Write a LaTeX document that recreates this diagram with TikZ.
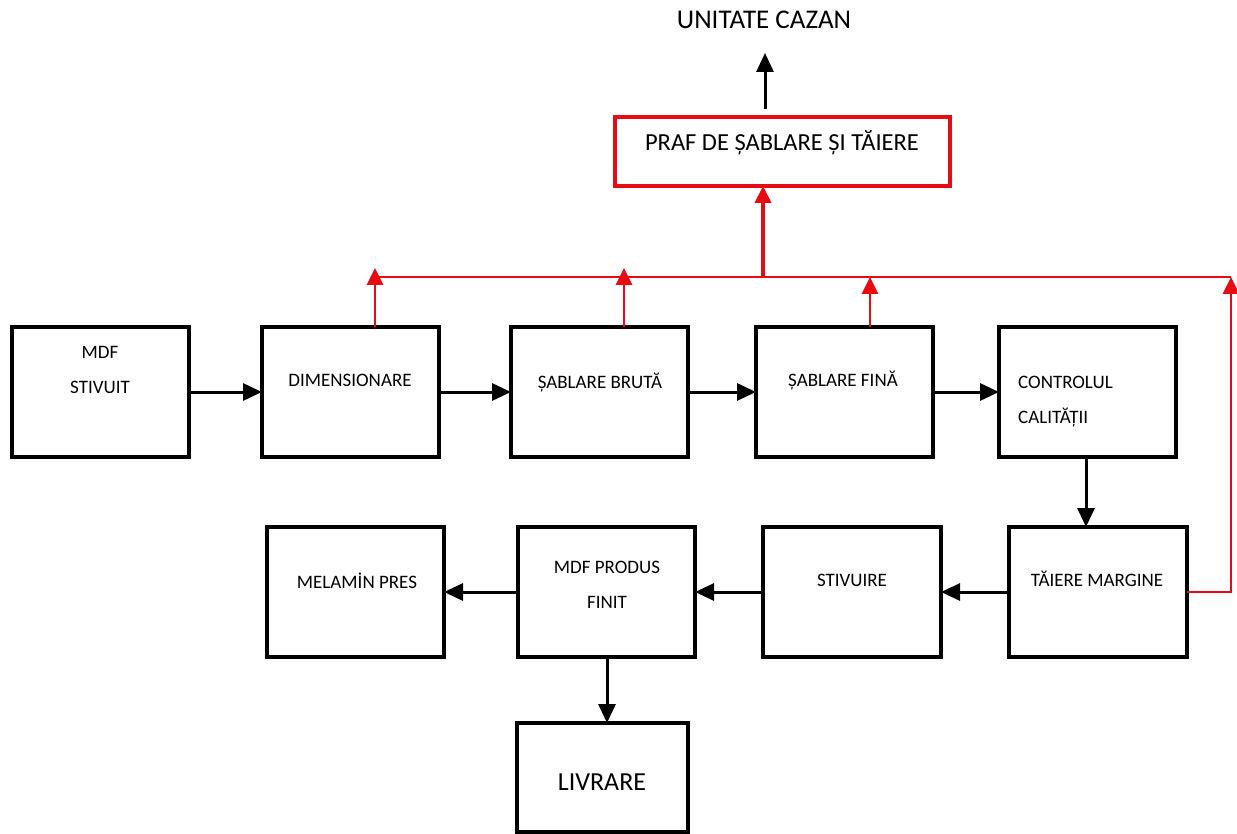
\documentclass[tikz,border=0pt]{standalone}
\usepackage{fontspec}
\setmainfont{Carlito}
\usetikzlibrary{arrows.meta,calc}
\definecolor{dustred}{RGB}{232,12,18}
\tikzset{
  box/.style={draw=black, line width=3.2pt, minimum width=177pt, minimum height=130pt,
              inner sep=0pt, outer sep=0pt},
  dustbox/.style={draw=dustred, line width=4.2pt, minimum width=335pt, minimum height=69pt,
              inner sep=0pt, outer sep=0pt},
  lbl/.style={inner sep=0pt, anchor=base, font=\fontsize{19}{22}\selectfont},
  flow/.style={draw=black, line width=3pt, -{Triangle[length=19pt,width=17pt]}},
  dust/.style={draw=dustred, line width=2.8pt, -{Triangle[length=17pt,width=16pt]}},
  dustline/.style={draw=dustred, line width=2.8pt},
}
\begin{document}
\begin{tikzpicture}[x=1pt,y=-1pt]
\useasboundingbox[fill=white] (0,0) rectangle (1237,834);

% process boxes, upper row
\node[box] (mdf) at (100.5,392) {};
\node[box] (dim) at (350.5,392) {};
\node[box] (sbr) at (599.5,392) {};
\node[box] (sfi) at (844.5,392) {};
\node[box] (ctl) at (1087.5,392) {};
% process boxes, lower row
\node[box, minimum width=178pt] (tai) at (1098,592) {};
\node[box, minimum width=178pt] (stv) at (852,592) {};
\node[box] (prd) at (606.5,592) {};
\node[box] (mel) at (355.5,592) {};
\node[box, minimum width=171pt, minimum height=109pt] (liv) at (602.5,777.5) {};
% dust collection
\node[dustbox] (praf) at (782.5,151.5) {};

% box labels
\node[lbl] (tmdfa) at (100,358.5) {MDF};
\node[lbl] (tmdfb) at (100,393.5) {STIVUIT};
\node[lbl] (tdim) at (350,386.5) {DIMENSIONARE};
\node[lbl] (tsbr) at (600,388.5) {ȘABLARE BRUTĂ};
\node[lbl] (tsfi) at (843,386.5) {ȘABLARE FINĂ};
\node[lbl, anchor=base west] (tctla) at (1018,388.5) {CONTROLUL};
\node[lbl, anchor=base west] (tctlb) at (1018,423.5) {CALITĂȚII};
\node[lbl] (ttai) at (1097,586.5) {TĂIERE MARGINE};
\node[lbl] (tstv) at (852,586.5) {STIVUIRE};
\node[lbl] (tprda) at (607,573.5) {MDF PRODUS};
\node[lbl] (tprdb) at (607,608.5) {FINIT};
\node[lbl] (tmel) at (357,588.5) {MELAMİN PRES};
\node[lbl, font=\fontsize{26}{30}\selectfont] (tliv) at (602,790.5) {LIVRARE};
\node[lbl, font=\fontsize{24.5}{28}\selectfont] (tpraf) at (782,151) {PRAF DE ȘABLARE ȘI TĂIERE};
\node[lbl, font=\fontsize{27}{32}\selectfont] (cazan) at (764,28.5) {UNITATE CAZAN};

% material flow
\draw[flow] (mdf.east) -- (dim.west);
\draw[flow] (dim.east) -- (sbr.west);
\draw[flow] (sbr.east) -- (sfi.west);
\draw[flow] (sfi.east) -- (ctl.west);
\coordinate (qc) at (1086,0);
\draw[flow] (ctl.south -| qc) -- (tai.north -| qc);
\draw[flow] (tai.west) -- (stv.east);
\draw[flow] (stv.west) -- (prd.east);
\draw[flow] (prd.west) -- (mel.east);
\coordinate (lc) at (607,0);
\draw[flow] (prd.south -| lc) -- (liv.north -| lc);

% exhaust to boiler
\coordinate (cz) at (765,53);
\draw[flow, shorten <=8pt] (praf.north -| cz) -- (cz);

% dust collection bus
\coordinate (busL) at (375,277);
\coordinate (busR) at (1231,277);
\coordinate (busS) at (624,277);
\coordinate (busF) at (870,277);
\coordinate (busP) at (763,277);
\draw[dustline] (busL) -- (busR);
\draw[dust] (dim.north -| busL) -- ([yshift=9pt]busL);
\draw[dust] (sbr.north -| busS) -- ([yshift=9pt]busS);
\draw[dust] (sfi.north -| busF) -- (busF);
\draw[dust] (tai.east) -| (busR);
\draw[dust, line width=4pt] (busP) -- (praf.south -| busP);
\end{tikzpicture}
\end{document}
